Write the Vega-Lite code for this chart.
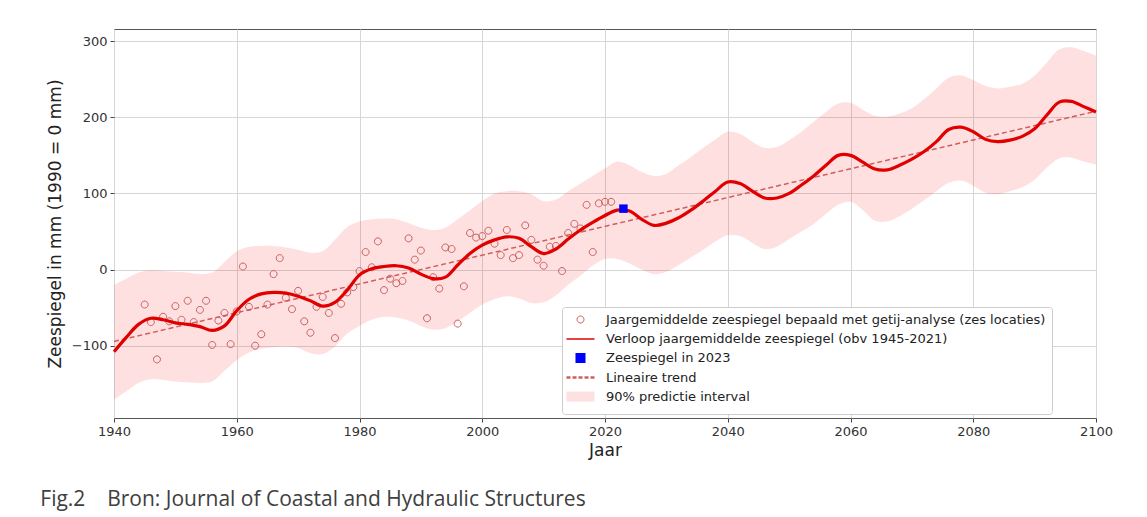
{
  "$schema": "https://vega.github.io/schema/vega-lite/v6.json",
  "autosize": {"type": "none"},
  "padding": {"left": 114, "top": 29, "right": 51, "bottom": 99},
  "width": 982,
  "height": 389,
  "background": "white",
  "config": {
    "view": {"stroke": "#555555", "strokeWidth": 1},
    "axis": {
      "labelFont": "DejaVu Sans", "labelFontSize": 13, "labelColor": "#333333",
      "titleFont": "DejaVu Sans", "titleFontSize": 17, "titleFontWeight": "normal", "titleColor": "#222222",
      "tickColor": "#444444", "tickSize": 4, "domain": false,
      "gridColor": "#d6d6d6", "gridWidth": 1, "labelPadding": 3
    },
    "legend": {
      "orient": "none",
      "legendX": 448,
      "legendY": 278,
      "fillColor": "white",
      "strokeColor": "#cccccc",
      "cornerRadius": 3,
      "padding": 6,
      "labelFont": "DejaVu Sans",
      "labelFontSize": 13,
      "labelColor": "#222222",
      "labelLimit": 700,
      "labelOffset": 18,
      "rowPadding": -4,
      "gridAlign": "all",
      "symbolSize": 144,
      "symbolOffset": 5,
      "symbolOpacity": 1
    }
  },
  "title": {
    "text": "Fig.2\u00a0\u00a0\u00a0\u00a0Bron: Journal of Coastal and Hydraulic Structures",
    "orient": "bottom", "anchor": "start", "frame": "bounds",
    "font": "Open Sans", "fontSize": 21, "fontWeight": "normal", "color": "#404040",
    "offset": 31, "dx": -6
  },
  "datasets": {
    "smooth": [
      {"year": 1940, "zs": -108, "lo": -171, "hi": -20},
      {"year": 1942, "zs": -89, "lo": -160, "hi": -12},
      {"year": 1944, "zs": -72, "lo": -149, "hi": -4},
      {"year": 1946, "zs": -64, "lo": -144, "hi": -1},
      {"year": 1948, "zs": -66, "lo": -145, "hi": -2},
      {"year": 1950, "zs": -70, "lo": -147, "hi": -3},
      {"year": 1952, "zs": -72, "lo": -148, "hi": -4},
      {"year": 1954, "zs": -75, "lo": -149, "hi": -6},
      {"year": 1956, "zs": -80, "lo": -147, "hi": -4},
      {"year": 1958, "zs": -74, "lo": -133, "hi": 10},
      {"year": 1960, "zs": -54, "lo": -119, "hi": 24},
      {"year": 1962, "zs": -39, "lo": -109, "hi": 30},
      {"year": 1964, "zs": -32, "lo": -104, "hi": 31},
      {"year": 1966, "zs": -30, "lo": -102, "hi": 31},
      {"year": 1968, "zs": -31, "lo": -101, "hi": 29},
      {"year": 1970, "zs": -35, "lo": -103, "hi": 26},
      {"year": 1972, "zs": -41, "lo": -110, "hi": 22},
      {"year": 1974, "zs": -48, "lo": -111, "hi": 24},
      {"year": 1976, "zs": -43, "lo": -101, "hi": 39},
      {"year": 1978, "zs": -27, "lo": -84, "hi": 56},
      {"year": 1980, "zs": -7, "lo": -74, "hi": 63},
      {"year": 1982, "zs": 1, "lo": -66, "hi": 66},
      {"year": 1984, "zs": 4, "lo": -62, "hi": 67},
      {"year": 1986, "zs": 5, "lo": -63, "hi": 66},
      {"year": 1988, "zs": 2, "lo": -67, "hi": 61},
      {"year": 1990, "zs": -6, "lo": -74, "hi": 55},
      {"year": 1992, "zs": -12, "lo": -79, "hi": 52},
      {"year": 1994, "zs": -10, "lo": -77, "hi": 55},
      {"year": 1996, "zs": 6, "lo": -68, "hi": 66},
      {"year": 1998, "zs": 21, "lo": -57, "hi": 78},
      {"year": 2000, "zs": 32, "lo": -46, "hi": 90},
      {"year": 2002, "zs": 39, "lo": -39, "hi": 100},
      {"year": 2004, "zs": 43, "lo": -35, "hi": 103},
      {"year": 2006, "zs": 41, "lo": -38, "hi": 103},
      {"year": 2008, "zs": 30, "lo": -44, "hi": 99},
      {"year": 2010, "zs": 21, "lo": -43, "hi": 90},
      {"year": 2012, "zs": 27, "lo": -34, "hi": 92},
      {"year": 2014, "zs": 40, "lo": -20, "hi": 103},
      {"year": 2016, "zs": 52, "lo": -8, "hi": 113},
      {"year": 2018, "zs": 62, "lo": 5, "hi": 123},
      {"year": 2020, "zs": 71, "lo": 14, "hi": 133},
      {"year": 2022, "zs": 78, "lo": 14, "hi": 142},
      {"year": 2024, "zs": 77, "lo": 8, "hi": 137},
      {"year": 2026, "zs": 66, "lo": 0, "hi": 128},
      {"year": 2028, "zs": 58, "lo": -6, "hi": 123},
      {"year": 2030, "zs": 61, "lo": -3, "hi": 126},
      {"year": 2032, "zs": 68, "lo": 6, "hi": 137},
      {"year": 2034, "zs": 78, "lo": 16, "hi": 148},
      {"year": 2036, "zs": 90, "lo": 26, "hi": 160},
      {"year": 2038, "zs": 103, "lo": 37, "hi": 171},
      {"year": 2040, "zs": 115, "lo": 45, "hi": 181},
      {"year": 2042, "zs": 113, "lo": 44, "hi": 178},
      {"year": 2044, "zs": 103, "lo": 35, "hi": 168},
      {"year": 2046, "zs": 94, "lo": 27, "hi": 160},
      {"year": 2048, "zs": 94, "lo": 30, "hi": 161},
      {"year": 2050, "zs": 100, "lo": 40, "hi": 170},
      {"year": 2052, "zs": 111, "lo": 50, "hi": 181},
      {"year": 2054, "zs": 123, "lo": 60, "hi": 194},
      {"year": 2056, "zs": 137, "lo": 73, "hi": 207},
      {"year": 2058, "zs": 150, "lo": 85, "hi": 218},
      {"year": 2060, "zs": 150, "lo": 89, "hi": 219},
      {"year": 2062, "zs": 141, "lo": 78, "hi": 210},
      {"year": 2064, "zs": 132, "lo": 64, "hi": 202},
      {"year": 2066, "zs": 131, "lo": 63, "hi": 201},
      {"year": 2068, "zs": 137, "lo": 70, "hi": 205},
      {"year": 2070, "zs": 145, "lo": 80, "hi": 212},
      {"year": 2072, "zs": 155, "lo": 91, "hi": 224},
      {"year": 2074, "zs": 168, "lo": 103, "hi": 238},
      {"year": 2076, "zs": 184, "lo": 114, "hi": 252},
      {"year": 2078, "zs": 187, "lo": 117, "hi": 255},
      {"year": 2080, "zs": 181, "lo": 110, "hi": 249},
      {"year": 2082, "zs": 171, "lo": 101, "hi": 241},
      {"year": 2084, "zs": 168, "lo": 99, "hi": 238},
      {"year": 2086, "zs": 170, "lo": 103, "hi": 240},
      {"year": 2088, "zs": 175, "lo": 108, "hi": 244},
      {"year": 2090, "zs": 185, "lo": 118, "hi": 255},
      {"year": 2092, "zs": 203, "lo": 134, "hi": 272},
      {"year": 2094, "zs": 220, "lo": 146, "hi": 289},
      {"year": 2096, "zs": 221, "lo": 147, "hi": 292},
      {"year": 2098, "zs": 214, "lo": 142, "hi": 287},
      {"year": 2100, "zs": 207, "lo": 138, "hi": 281}
    ],
    "obs": [
      {"year": 1945, "zs": -46}, {"year": 1946, "zs": -69}, {"year": 1947, "zs": -118}, {"year": 1948, "zs": -62},
      {"year": 1949, "zs": -68}, {"year": 1950, "zs": -48}, {"year": 1951, "zs": -66}, {"year": 1952, "zs": -41},
      {"year": 1953, "zs": -69}, {"year": 1954, "zs": -53}, {"year": 1955, "zs": -41}, {"year": 1956, "zs": -99},
      {"year": 1957, "zs": -67}, {"year": 1958, "zs": -57}, {"year": 1959, "zs": -98}, {"year": 1960, "zs": -55},
      {"year": 1961, "zs": 4}, {"year": 1962, "zs": -49}, {"year": 1963, "zs": -100}, {"year": 1964, "zs": -85},
      {"year": 1965, "zs": -46}, {"year": 1966, "zs": -6}, {"year": 1967, "zs": 15}, {"year": 1968, "zs": -37},
      {"year": 1969, "zs": -52}, {"year": 1970, "zs": -28}, {"year": 1971, "zs": -68}, {"year": 1972, "zs": -83},
      {"year": 1973, "zs": -49}, {"year": 1974, "zs": -36}, {"year": 1975, "zs": -57}, {"year": 1976, "zs": -90},
      {"year": 1977, "zs": -45}, {"year": 1978, "zs": -30}, {"year": 1979, "zs": -23}, {"year": 1980, "zs": -2},
      {"year": 1981, "zs": 23}, {"year": 1982, "zs": 3}, {"year": 1983, "zs": 37}, {"year": 1984, "zs": -27},
      {"year": 1985, "zs": -12}, {"year": 1986, "zs": -18}, {"year": 1987, "zs": -15}, {"year": 1988, "zs": 41},
      {"year": 1989, "zs": 13}, {"year": 1990, "zs": 25}, {"year": 1991, "zs": -64}, {"year": 1992, "zs": -10},
      {"year": 1993, "zs": -25}, {"year": 1994, "zs": 29}, {"year": 1995, "zs": 27}, {"year": 1996, "zs": -71},
      {"year": 1997, "zs": -22}, {"year": 1998, "zs": 48}, {"year": 1999, "zs": 42}, {"year": 2000, "zs": 44},
      {"year": 2001, "zs": 51}, {"year": 2002, "zs": 34}, {"year": 2003, "zs": 19}, {"year": 2004, "zs": 52},
      {"year": 2005, "zs": 15}, {"year": 2006, "zs": 19}, {"year": 2007, "zs": 58}, {"year": 2008, "zs": 39},
      {"year": 2009, "zs": 13}, {"year": 2010, "zs": 5}, {"year": 2011, "zs": 30}, {"year": 2012, "zs": 31},
      {"year": 2013, "zs": -2}, {"year": 2014, "zs": 48}, {"year": 2015, "zs": 60}, {"year": 2016, "zs": 54},
      {"year": 2017, "zs": 85}, {"year": 2018, "zs": 23}, {"year": 2019, "zs": 87}, {"year": 2020, "zs": 89},
      {"year": 2021, "zs": 89}
    ],
    "trend": [
      {"year": 1940, "zs": -94.5},
      {"year": 2100, "zs": 208}
    ],
    "now": [
      {"year": 2023, "zs": 80}
    ]
  },
  "encoding": {
    "x": {
      "field": "year", "type": "quantitative",
      "scale": {"domain": [1940, 2100], "nice": false, "zero": false},
      "axis": {"values": [1940, 1960, 1980, 2000, 2020, 2040, 2060, 2080, 2100], "format": "d", "title": "Jaar", "titlePadding": 4, "labelFlush": false}
    }
  },
  "layer": [
    {
      "data": {"name": "smooth"},
      "mark": {"type": "area", "interpolate": "catmull-rom", "color": "#ff0000", "opacity": 0.12},
      "encoding": {
        "y": {
          "field": "lo", "type": "quantitative",
          "scale": {"domain": [-195, 316], "nice": false, "zero": false},
          "axis": {"values": [-100, 0, 100, 200, 300], "title": "Zeespiegel in mm (1990 = 0 mm)", "titlePadding": 7}
        },
        "y2": {"field": "hi"}
      }
    },
    {
      "data": {"name": "trend"},
      "mark": {"type": "line", "color": "#d05e5e", "strokeWidth": 1.5, "strokeDash": [5, 3]},
      "encoding": {
        "y": {"field": "zs", "type": "quantitative"}
      }
    },
    {
      "data": {"name": "obs"},
      "mark": {"type": "point", "opacity": 1, "size": 144},
      "encoding": {
        "y": {"field": "zs", "type": "quantitative"},
        "shape": {
          "datum": "Jaargemiddelde zeespiegel bepaald met getij-analyse (zes locaties)",
          "type": "nominal",
          "scale": {
            "domain": [
              "Jaargemiddelde zeespiegel bepaald met getij-analyse (zes locaties)",
              "Verloop jaargemiddelde zeespiegel (obv 1945-2021)",
              "Zeespiegel in 2023",
              "Lineaire trend",
              "90% predictie interval"
            ],
            "range": [
              "M-0.58,0A0.58,0.58 0 1,0 0.58,0A0.58,0.58 0 1,0 -0.58,0Z",
              "M-2.33,0L2.33,0",
              "M-0.67,-0.67L0.67,-0.67L0.67,0.67L-0.67,0.67Z",
              "M-2.33,0L2.33,0",
              "M-2.33,-0.83L2.33,-0.83L2.33,0.83L-2.33,0.83Z"
            ]
          },
          "legend": {"title": null}
        },
        "fill": {
          "datum": "Jaargemiddelde zeespiegel bepaald met getij-analyse (zes locaties)",
          "type": "nominal",
          "scale": {
            "domain": [
              "Jaargemiddelde zeespiegel bepaald met getij-analyse (zes locaties)",
              "Verloop jaargemiddelde zeespiegel (obv 1945-2021)",
              "Zeespiegel in 2023",
              "Lineaire trend",
              "90% predictie interval"
            ],
            "range": ["transparent", "transparent", "#0000ff", "transparent", "#fde0e0"]
          },
          "legend": {"title": null}
        },
        "stroke": {
          "datum": "Jaargemiddelde zeespiegel bepaald met getij-analyse (zes locaties)",
          "type": "nominal",
          "scale": {
            "domain": [
              "Jaargemiddelde zeespiegel bepaald met getij-analyse (zes locaties)",
              "Verloop jaargemiddelde zeespiegel (obv 1945-2021)",
              "Zeespiegel in 2023",
              "Lineaire trend",
              "90% predictie interval"
            ],
            "range": ["#c85a5a", "#e00000", "#0000ff", "#d05e5e", "transparent"]
          },
          "legend": {"title": null}
        },
        "strokeWidth": {
          "datum": "Jaargemiddelde zeespiegel bepaald met getij-analyse (zes locaties)",
          "type": "nominal",
          "scale": {
            "domain": [
              "Jaargemiddelde zeespiegel bepaald met getij-analyse (zes locaties)",
              "Verloop jaargemiddelde zeespiegel (obv 1945-2021)",
              "Zeespiegel in 2023",
              "Lineaire trend",
              "90% predictie interval"
            ],
            "range": [1, 3, 1, 1.5, 0]
          },
          "legend": {"title": null}
        },
        "strokeDash": {
          "datum": "Jaargemiddelde zeespiegel bepaald met getij-analyse (zes locaties)",
          "type": "nominal",
          "scale": {
            "domain": [
              "Jaargemiddelde zeespiegel bepaald met getij-analyse (zes locaties)",
              "Verloop jaargemiddelde zeespiegel (obv 1945-2021)",
              "Zeespiegel in 2023",
              "Lineaire trend",
              "90% predictie interval"
            ],
            "range": [[1, 0], [1, 0], [1, 0], [4, 2], [1, 0]]
          },
          "legend": {"title": null}
        }
      }
    },
    {
      "data": {"name": "smooth"},
      "mark": {"type": "line", "interpolate": "catmull-rom", "color": "#e00000", "strokeWidth": 3.2},
      "encoding": {
        "y": {"field": "zs", "type": "quantitative"}
      }
    },
    {
      "data": {"name": "now"},
      "mark": {"type": "point", "shape": "square", "filled": true, "color": "#0000ff", "size": 72, "opacity": 1},
      "encoding": {
        "y": {"field": "zs", "type": "quantitative"}
      }
    }
  ]
}
